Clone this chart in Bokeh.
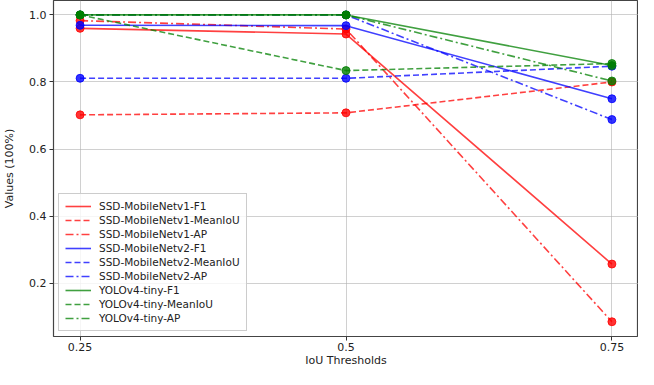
from bokeh.plotting import figure
from bokeh.models import Range1d, FixedTicker, Legend, LegendItem, NumeralTickFormatter
from bokeh.embed import file_html
from bokeh.resources import INLINE

thresholds = [0.25, 0.5, 0.75]
x_tick_labels = {0.25: "0.25", 0.5: "0.5", 0.75: "0.75"}
y_ticks = [0.2, 0.4, 0.6, 0.8, 1.0]

ssd_v1_f1 = [0.96, 0.943, 0.257]
ssd_v1_meaniou = [0.702, 0.708, 0.80]
ssd_v1_ap = [0.983, 0.958, 0.085]
ssd_v2_f1 = [0.969, 0.968, 0.75]
ssd_v2_meaniou = [0.811, 0.811, 0.847]
ssd_v2_ap = [1.0, 1.0, 0.688]
yolo_f1 = [1.0, 1.0, 0.849]
yolo_meaniou = [1.0, 0.834, 0.855]
yolo_ap = [1.0, 1.0, 0.803]

series = [
    ("SSD-MobileNetv1-F1", ssd_v1_f1, "red", "solid"),
    ("SSD-MobileNetv1-MeanIoU", ssd_v1_meaniou, "red", "dashed"),
    ("SSD-MobileNetv1-AP", ssd_v1_ap, "red", "dashdot"),
    ("SSD-MobileNetv2-F1", ssd_v2_f1, "blue", "solid"),
    ("SSD-MobileNetv2-MeanIoU", ssd_v2_meaniou, "blue", "dashed"),
    ("SSD-MobileNetv2-AP", ssd_v2_ap, "blue", "dashdot"),
    ("YOLOv4-tiny-F1", yolo_f1, "green", "solid"),
    ("YOLOv4-tiny-MeanIoU", yolo_meaniou, "green", "dashed"),
    ("YOLOv4-tiny-AP", yolo_ap, "green", "dashdot"),
]

dash_map = {"solid": "solid", "dashed": "6 3", "dashdot": "8 3 2 3"}

p = figure(width=638, height=369, output_backend="svg", toolbar_location=None,
           x_range=Range1d(0.225, 0.775), y_range=Range1d(0.041, 1.043),
           min_border_left=49, min_border_right=0, min_border_top=0, min_border_bottom=0)

items = []
for name, vals, color, style in series:
    r = p.line(thresholds, vals, line_color=color, line_alpha=0.75, line_width=1.6,
               line_dash=dash_map[style])
    p.scatter(thresholds, vals, size=8, fill_color=color, line_color=color, fill_alpha=0.8, line_alpha=0.8)
    items.append(LegendItem(label=name, renderers=[r]))

legend = Legend(items=items, location="bottom_left", label_text_font="DejaVu Sans",
                label_text_font_size="10.5px", label_text_color="#222222",
                label_height=12, label_standoff=8, glyph_width=26, glyph_height=12, spacing=2,
                padding=6, margin=5, border_line_color="#cccccc", border_line_alpha=1.0,
                background_fill_alpha=0.8)
p.add_layout(legend)

p.xaxis.ticker = FixedTicker(ticks=thresholds)
p.xaxis.major_label_overrides = x_tick_labels
p.yaxis.ticker = FixedTicker(ticks=y_ticks)
p.yaxis.formatter = NumeralTickFormatter(format="0.0")
p.xaxis.minor_tick_line_color = None
p.yaxis.minor_tick_line_color = None
for ax in (p.xaxis, p.yaxis):
    ax.axis_line_color = None
    ax.major_tick_line_color = "#333333"
    ax.major_tick_out = 4
    ax.major_tick_in = 0
    ax.major_label_text_font = "DejaVu Sans"
    ax.major_label_text_font_size = "11px"
    ax.major_label_text_color = "#222222"
    ax.axis_label_text_font = "DejaVu Sans"
    ax.axis_label_text_font_size = "11px"
    ax.axis_label_text_font_style = "normal"
    ax.axis_label_text_color = "#222222"
p.xaxis.major_label_standoff = 2
p.yaxis.major_label_standoff = 3
p.xaxis.axis_label = "IoU Thresholds"
p.yaxis.axis_label = "Values (100%)"
p.xaxis.axis_label_standoff = 0
p.yaxis.axis_label_standoff = 10

p.grid.grid_line_color = "#b0b0b0"
p.grid.grid_line_alpha = 0.6
p.grid.grid_line_width = 1
p.outline_line_color = "#444444"
p.outline_line_width = 1.2
p.outline_line_alpha = 1.0

open("out.html", "w").write(file_html(p, INLINE))
